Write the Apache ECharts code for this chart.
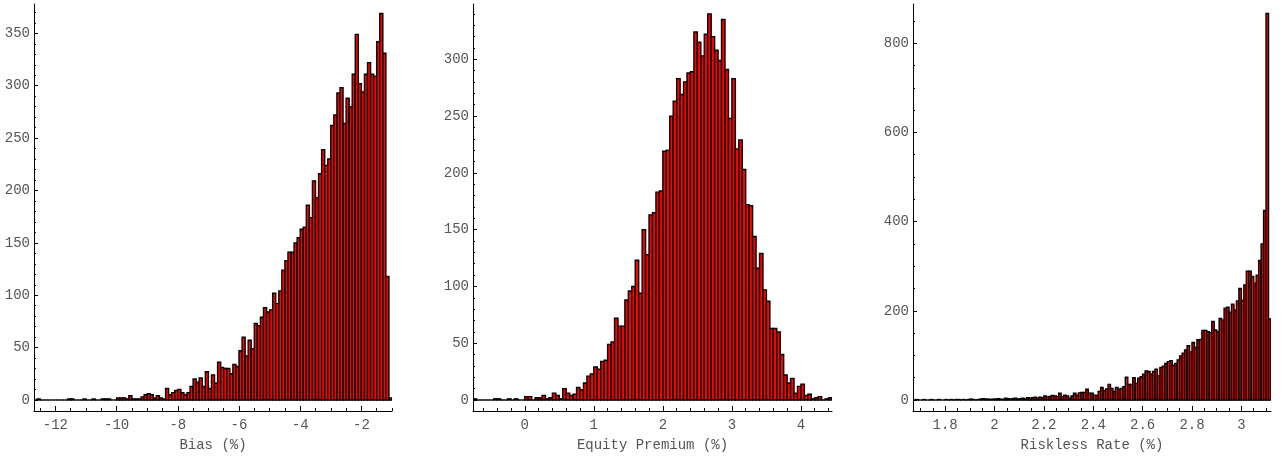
<!DOCTYPE html>
<html>
<head>
<meta charset="utf-8">
<title>Histograms</title>
<script src="https://cdn.jsdelivr.net/npm/echarts@6/dist/echarts.min.js"></script>
<style>
html, body { margin: 0; padding: 0; background: #fff; }
#main { width: 1283px; height: 462px; }
</style>
</head>
<body>
<div id="main"></div>
<script>
// Bias (%) : bins of 0.1 starting at -12.7
var biasStart = -12.7, biasWidth = 0.1;
var biasCounts = [
	0, 1, 0, 0, 0, 0, 0, 0, 0, 0,
	0, 1, 1, 0, 0, 0, 1, 0, 0, 1,
	0, 0, 1, 1, 1, 0, 0, 2, 2, 2,
	1, 4, 1, 1, 1, 3, 5, 6, 5, 2,
	4, 2, 1, 11, 5, 7, 9, 10, 7, 5,
	7, 13, 20, 17, 21, 13, 27, 11, 24, 16,
	36, 31, 30, 30, 25, 34, 32, 47, 60, 42,
	57, 49, 73, 71, 79, 88, 84, 86, 102, 92,
	104, 124, 133, 141, 141, 150, 155, 163, 165, 186,
	174, 209, 193, 216, 239, 224, 230, 262, 272, 293,
	298, 264, 288, 280, 311, 349, 302, 294, 311, 322,
	311, 309, 342, 369, 331, 118, 2
];
var biasTicks = [-12, -10, -8, -6, -4, -2];
var biasYTicks = [0, 50, 100, 150, 200, 250, 300, 350];

// Equity Premium (%) : bins of 0.05 starting at -0.75
var premStart = -0.75, premWidth = 0.05;
var premCounts = [
	1, 0, 0, 0, 0, 0, 1, 1, 0, 0, 1, 0, 1, 0, 0,
	3, 3, 0, 2, 2, 4, 1, 2, 6, 4, 1, 10, 6, 4, 5, 11, 9, 15, 21, 23,
	29, 27, 34, 35, 49, 51, 72, 65, 65, 88, 96, 100, 123, 94, 150, 128, 163, 165, 183, 184,
	219, 220, 250, 263, 283, 269, 280, 288, 289, 324, 315, 303, 322, 340, 320, 308, 299, 335, 291, 248,
	283, 221, 229, 203, 172, 171, 144, 116, 129, 97, 87, 63, 63, 60, 40, 22, 15, 19, 6, 12,
	14, 4, 5, 1, 2, 3, 0, 1, 2
];
var premTicks = [0, 1, 2, 3, 4];
var premYTicks = [0, 50, 100, 150, 200, 250, 300];

// Riskless Rate (%) : bins of 0.01 starting at 1.67
var rateStart = 1.67, rateWidth = 0.01;
var rateCounts = [
	0, 1, 0, 0, 1, 0, 0, 1, 0, 0,
	1, 0, 0, 1, 0, 1, 0, 1, 1, 0,
	1, 0, 1, 2, 1, 0, 1, 2, 3, 2,
	2, 1, 2, 2, 3, 2, 1, 4, 3, 2,
	3, 4, 2, 3, 4, 2, 5, 4, 5, 6,
	4, 6, 5, 9, 7, 8, 10, 9, 8, 15,
	7, 11, 9, 4, 9, 15, 11, 16, 17, 17,
	24, 15, 15, 11, 10, 19, 28, 21, 25, 35,
	26, 19, 28, 24, 26, 30, 51, 35, 35, 50,
	37, 49, 52, 58, 65, 64, 58, 64, 69, 54,
	73, 76, 82, 86, 88, 78, 82, 90, 99, 105,
	112, 122, 108, 129, 118, 135, 136, 156, 156, 153,
	151, 176, 157, 153, 183, 179, 206, 208, 197, 215,
	202, 222, 250, 223, 258, 289, 289, 277, 262, 280,
	313, 350, 425, 867, 182
];
var rateTicks = [1.8, 2, 2.2, 2.4, 2.6, 2.8, 3];
var rateYTicks = [0, 200, 400, 600, 800];

var FONT = 'Liberation Mono';
var LABEL_COLOR = '#555';

// positions of the small ticks along an axis
function steps(from, to, step) {
	var out = [];
	for (var v = from; v <= to + step / 1000; v += step) {
		out.push(Math.round(v * 10000) / 10000);
	}
	return out;
}

function renderBar(params, api) {
	var p0 = api.coord([api.value(0), 0]);
	var p1 = api.coord([api.value(1), api.value(2)]);
	return {
		type: 'rect',
		shape: { x: p0[0], y: p1[1], width: p1[0] - p0[0], height: p0[1] - p1[1] },
		style: { fill: '#ff0000', stroke: '#000', lineWidth: 1.4 }
	};
}

var grids = [], xAxes = [], yAxes = [], series = [];

function addPanel(box, xr, yr, xTicks, xMinor, yTicks, yMinor, name, start, width, counts) {
	var g = grids.length;
	grids.push({ left: box[0], top: 4, width: box[1], height: 407 });

	// main x axis: line, long ticks, labels, name
	xAxes.push({
		type: 'value', gridIndex: g, min: xr[0], max: xr[1], position: 'bottom',
		axisLine: { show: true, onZero: false, lineStyle: { color: '#000', width: 1 } },
		axisTick: { show: true, inside: true, length: 5, customValues: xTicks, lineStyle: { color: '#000' } },
		axisLabel: { show: true, customValues: xTicks, margin: 7, color: LABEL_COLOR, fontFamily: FONT, fontSize: 14 },
		splitLine: { show: false },
		name: name, nameLocation: 'middle', nameGap: 27,
		nameTextStyle: { color: LABEL_COLOR, fontFamily: FONT, fontSize: 14 }
	});
	// small ticks
	xAxes.push({
		type: 'value', gridIndex: g, min: xr[0], max: xr[1], position: 'bottom',
		axisLine: { show: false, onZero: false },
		axisTick: { show: true, inside: true, length: 3, customValues: xMinor, lineStyle: { color: '#000' } },
		axisLabel: { show: false },
		splitLine: { show: false }
	});

	yAxes.push({
		type: 'value', gridIndex: g, min: yr[0], max: yr[1], position: 'left',
		axisLine: { show: true, onZero: false, lineStyle: { color: '#000', width: 1 } },
		axisTick: { show: true, inside: true, length: 4, customValues: yTicks, lineStyle: { color: '#000' } },
		axisLabel: { show: true, customValues: yTicks, margin: 4, color: LABEL_COLOR, fontFamily: FONT, fontSize: 14 },
		splitLine: { show: false }
	});
	yAxes.push({
		type: 'value', gridIndex: g, min: yr[0], max: yr[1], position: 'left',
		axisLine: { show: false, onZero: false },
		axisTick: { show: true, inside: true, length: 2, customValues: yMinor, lineStyle: { color: '#000' } },
		axisLabel: { show: false },
		splitLine: { show: false }
	});

	var data = counts.map(function (c, i) {
		return [start + i * width, start + (i + 1) * width, c];
	});
	series.push({
		type: 'custom', xAxisIndex: 2 * g, yAxisIndex: 2 * g,
		data: data, encode: { x: [0, 1], y: 2 },
		renderItem: renderBar, clip: true, silent: true
	});
}

addPanel([34, 358], [-12.7, -1.0], [-10.5, 378],
	biasTicks, steps(-12.5, -1.0, 0.5), biasYTicks, steps(0, 370, 10),
	'Bias (%)', biasStart, biasWidth, biasCounts);
addPanel([473, 359], [-0.75, 4.45], [-9.7, 348.7],
	premTicks, steps(-0.6, 4.4, 0.2), premYTicks, steps(0, 340, 10),
	'Equity Premium (%)', premStart, premWidth, premCounts);
addPanel([913, 358], [1.67, 3.12], [-24.7, 888],
	rateTicks, steps(1.7, 3.1, 0.05), rateYTicks, steps(0, 850, 50),
	'Riskless Rate (%)', rateStart, rateWidth, rateCounts);

var chart = echarts.init(document.getElementById('main'));
chart.setOption({
	animation: false,
	backgroundColor: '#fff',
	grid: grids,
	xAxis: xAxes,
	yAxis: yAxes,
	series: series
});
</script>
</body>
</html>
